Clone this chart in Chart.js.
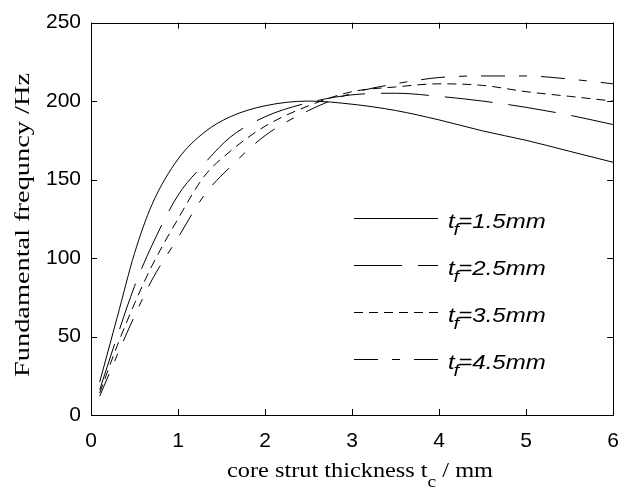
<!DOCTYPE html>
<html>
<head>
<meta charset="utf-8">
<script src="https://cdn.jsdelivr.net/npm/chart.js@4/dist/chart.umd.min.js"></script>
<style>
  html, body { margin: 0; padding: 0; background: #fff; }
  #wrap { width: 633px; height: 491px; }
</style>
</head>
<body>
<div id="wrap"><canvas id="myChart"></canvas></div>
<script>
// core strut thickness t_c (mm)
var thickness = [0.1, 0.3, 0.5, 0.7, 1.0, 1.3, 1.6, 2.0, 2.5, 3.0, 3.5, 4.0, 4.5, 5.0, 5.5, 6.0];

// fundamental frequency (Hz) for each face sheet thickness t_f
var freq15 = [21, 62, 103, 134, 163, 180, 190, 197, 200, 198, 194, 188, 181, 175, 168, 161];
var freq25 = [16, 50, 82, 108, 140, 160, 177, 190, 199, 204, 205, 203, 200, 196, 191, 185];
var freq35 = [14, 44, 71, 95, 125, 152, 168, 184, 197, 206, 209, 211, 210, 206, 203, 200];
var freq45 = [12, 38, 63, 86, 113, 140, 158, 178, 194, 205, 211, 215, 216, 216, 214, 211];

var seriesNames = ['1.5', '2.5', '3.5', '4.5'];
var xTicks = [0, 1, 2, 3, 4, 5, 6];
var yTicks = [0, 50, 100, 150, 200, 250];

var dashes = [[], [48, 16], [9, 6], [24, 14, 8, 14]];

function pts(ys) {
  return thickness.map(function(x, i) { return { x: x, y: ys[i] }; });
}

var SERIF = '"Liberation Serif", "Times New Roman", serif';
var SANS = '"Liberation Sans", Arial, sans-serif';

var ctx = document.getElementById('myChart').getContext('2d');

// frame, inward ticks, legend and axis titles
var decor = {
  id: 'decor',
  afterDraw: function(chart) {
    var c = chart.ctx;
    var a = chart.chartArea;
    var xs = chart.scales.x, ys = chart.scales.y;
    c.save();
    c.strokeStyle = '#000';
    c.fillStyle = '#000';
    c.lineWidth = 1;
    c.setLineDash([]);
    c.strokeRect(Math.round(a.left) + 0.5, Math.round(a.top) + 0.5,
      Math.round(a.right - a.left), Math.round(a.bottom - a.top));

    c.beginPath();
    xTicks.forEach(function(v) {
      var px = Math.round(xs.getPixelForValue(v)) + 0.5;
      c.moveTo(px, a.bottom); c.lineTo(px, a.bottom - 6);
      c.moveTo(px, a.top); c.lineTo(px, a.top + 6);
    });
    yTicks.forEach(function(v) {
      var py = Math.round(ys.getPixelForValue(v)) + 0.5;
      c.moveTo(a.left, py); c.lineTo(a.left + 6, py);
      c.moveTo(a.right, py); c.lineTo(a.right - 6, py);
    });
    c.stroke();

    // legend
    var lx1 = 354, lx2 = 438, ly = 218, step = 47;
    chart.data.datasets.forEach(function(ds, i) {
      var y = ly + i * step + 0.5;
      c.beginPath();
      c.setLineDash(ds.borderDash || []);
      c.moveTo(lx1, y); c.lineTo(lx2, y);
      c.stroke();
      c.setLineDash([]);
      c.save();
      c.translate(448, y + 9);
      c.scale(1.2, 1);
      c.textBaseline = 'alphabetic';
      c.textAlign = 'left';
      c.font = 'italic 20px ' + SANS;
      c.fillText('t', 0, 0);
      var tw = c.measureText('t').width;
      c.font = 'italic 17px ' + SANS;
      c.fillText('f', tw - 1, 7);
      c.font = 'italic 20px ' + SANS;
      c.fillText('=' + seriesNames[i] + 'mm', tw + 3, 0);
      c.restore();
    });

    // x axis title, with subscript c
    c.textBaseline = 'alphabetic';
    c.textAlign = 'left';
    var p1 = 'core strut thickness t', p2 = ' / mm';
    c.font = '20px ' + SERIF;
    var w1 = c.measureText(p1).width, w2 = c.measureText(p2).width;
    c.font = '16px ' + SERIF;
    var ws = c.measureText('c').width;
    var total = w1 + ws + w2;
    var k = (493 - 227) / total;
    c.save();
    c.translate(227, 477);
    c.scale(k, 1);
    c.font = '20px ' + SERIF;
    c.fillText(p1, 0, 0);
    c.font = '16px ' + SERIF;
    c.fillText('c', w1, 10);
    c.font = '20px ' + SERIF;
    c.fillText(p2, w1 + ws, 0);
    c.restore();

    // y axis title
    var yt = 'Fundamental frequncy /Hz';
    c.font = '20px ' + SERIF;
    var wy = c.measureText(yt).width;
    c.save();
    c.translate(29, 225);
    c.rotate(-Math.PI / 2);
    c.scale((377 - 73) / wy, 1);
    c.textAlign = 'center';
    c.fillText(yt, 0, 0);
    c.restore();

    c.restore();
  }
};

var chart = new Chart(ctx, {
  type: 'line',
  data: {
    datasets: [freq15, freq25, freq35, freq45].map(function(d, i) {
      return {
        label: 't_f=' + seriesNames[i] + 'mm',
        data: pts(d),
        borderColor: '#000',
        borderWidth: 1,
        borderDash: dashes[i],
        pointRadius: 0,
        fill: false,
        cubicInterpolationMode: 'monotone'
      };
    })
  },
  options: {
    responsive: true,
    maintainAspectRatio: false,
    animation: false,
    layout: { padding: { left: 0, right: 8, top: 14, bottom: 0 } },
    plugins: {
      legend: { display: false },
      tooltip: { enabled: false }
    },
    scales: {
      x: {
        type: 'linear',
        min: 0,
        max: 6,
        grid: { display: false, drawTicks: false },
        border: { display: false },
        afterFit: function(s) { s.height = 76; },
        afterBuildTicks: function(s) { s.ticks = xTicks.map(function(v) { return { value: v }; }); },
        ticks: {
          color: '#000',
          padding: 14,
          maxRotation: 0,
          font: { family: SANS, size: 21 }
        }
      },
      y: {
        min: 0,
        max: 250,
        grid: { display: false, drawTicks: false },
        border: { display: false },
        afterFit: function(s) { s.width = 91; },
        afterBuildTicks: function(s) { s.ticks = yTicks.map(function(v) { return { value: v }; }); },
        ticks: {
          color: '#000',
          padding: 10,
          font: { family: SANS, size: 21 }
        }
      }
    }
  },
  plugins: [decor]
});
</script>
</body>
</html>
